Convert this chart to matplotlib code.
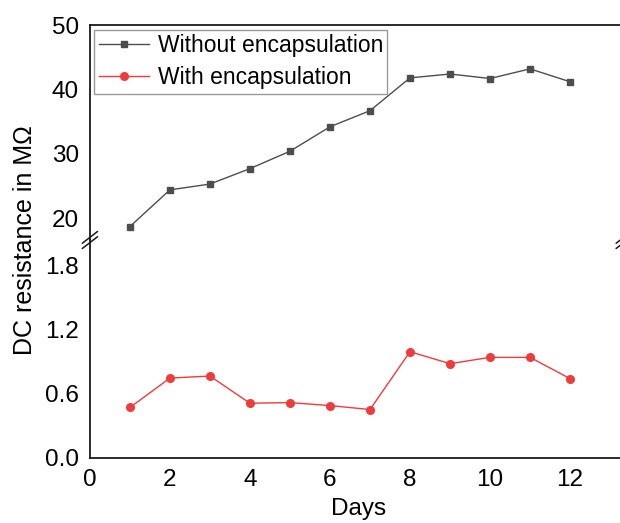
import matplotlib
matplotlib.use("Agg")
import matplotlib.pyplot as plt

plt.rcParams['font.family'] = ['Liberation Sans', 'DejaVu Sans']

days = [1, 2, 3, 4, 5, 6, 7, 8, 9, 10, 11, 12]
without_enc = [18.7, 24.4, 25.3, 27.7, 30.4, 34.2, 36.7, 41.8, 42.4, 41.7, 43.2, 41.2]
with_enc = [0.47, 0.746, 0.765, 0.51, 0.516, 0.488, 0.451, 0.993, 0.881, 0.94, 0.94, 0.741]

top_ticks = [20, 30, 40, 50]
bottom_ticks = [0.0, 0.6, 1.2, 1.8]
x_ticks = [0, 2, 4, 6, 8, 10, 12]

fig = plt.figure(figsize=(6.2, 5.23), dpi=100)
left, width = 0.145, 0.868
ax_top = fig.add_axes([left, 0.541, width, 0.411])
ax_bot = fig.add_axes([left, 0.125, width, 0.416])

gray = '#4d4d4d'
red = '#ef3b3b'
l1, = ax_top.plot(days, without_enc, color=gray, lw=1, marker='s', ms=5,
                  label='Without encapsulation')
l2, = ax_bot.plot(days, with_enc, color=red, lw=1, marker='o', ms=5.5,
                  label='With encapsulation')

for ax in (ax_top, ax_bot):
    ax.set_xlim(0, 13.45)
    for s in ax.spines.values():
        s.set_linewidth(1.3)
        s.set_color('#1a1a1a')
    ax.tick_params(length=0, labelsize=17.5, pad=8)

ax_top.set_ylim(16.6, 50)
ax_top.set_yticks(top_ticks)
ax_top.spines['bottom'].set_visible(False)
ax_top.set_xticks([])

ax_bot.set_ylim(0, 2.04)
ax_bot.set_yticks(bottom_ticks)
ax_bot.set_yticklabels(['%.1f' % t for t in bottom_ticks])
ax_bot.spines['top'].set_visible(False)
ax_bot.set_xticks(x_ticks)
ax_bot.tick_params(axis='x', pad=8)
ax_bot.set_xlabel('Days', fontsize=17.5, labelpad=5)

fig.text(0.041, 1 - 240 / 523, 'DC resistance in M\u03a9', rotation=90,
         ha='center', va='center', fontsize=18)

# break marks on the axis
yb = 1 - 240 / 523
for xc in (left, 1.006):
    for dy in (-0.005, 0.005):
        fig.add_artist(plt.Line2D([xc - 0.012, xc + 0.012], [yb + dy - 0.011, yb + dy + 0.011],
                                  color='#1a1a1a', lw=1.1, transform=fig.transFigure))

leg = ax_top.legend(handles=[l1, l2], loc='upper left', fontsize=16.5,
                    frameon=True, fancybox=False, edgecolor='#808080',
                    borderaxespad=0.2, handlelength=2.2, handletextpad=0.35,
                    borderpad=0.2, labelspacing=0.4)
leg.get_frame().set_linewidth(1)

fig.savefig('out.png', dpi=100)
